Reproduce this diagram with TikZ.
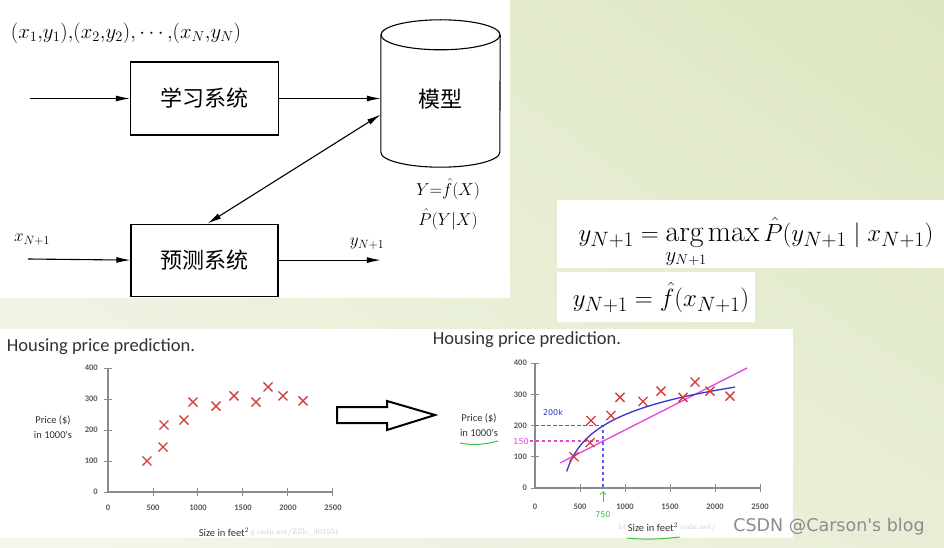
\documentclass[tikz,border=0pt]{standalone}
\usepackage{amsmath,amssymb}
\usepackage{fontspec}
\newfontfamily\cjk{Noto Sans CJK SC}
\newfontfamily\plotfont{Carlito}
\newfontfamily\markfont{DejaVu Sans}
\usepackage{xcolor}
\usetikzlibrary{positioning,arrows.meta,calc,shadings}
\definecolor{bglight}{HTML}{F4F7EC}
\definecolor{bggreen}{HTML}{DCE6BF}
\definecolor{crossred}{HTML}{D63B3B}
\definecolor{fitblue}{HTML}{3535D0}
\definecolor{dashblue}{HTML}{5A5AF5}
\definecolor{fitpink}{HTML}{E445DC}
\definecolor{inkgreen}{HTML}{3CC23C}
\definecolor{axisgray}{HTML}{8A8A8A}

\begin{document}
\begin{tikzpicture}[x=1pt, y=-1pt,
    sysbox/.style={
        draw, line width=1.1pt, minimum width=148pt, minimum height=73pt,
        font=\cjk\fontsize{22}{26}\selectfont
    },
    arrow/.style={-{Latex[length=14pt,width=6pt]}, line width=1.1pt},
    dblarrow/.style={{Latex[length=14pt,width=6pt]}-{Latex[length=14pt,width=6pt]}, line width=1.1pt},
    lbl/.style={font=\fontsize{17}{20}\selectfont, inner sep=0pt},
    formula/.style={font=\fontsize{30}{36}\selectfont, inner sep=0pt, anchor=base},
    plottitle/.style={font=\plotfont\fontsize{18.5}{22}\selectfont, text=black!80, inner sep=0pt},
    ticklbl/.style={font=\plotfont\bfseries\fontsize{8.5}{10}\selectfont, text=black!65, inner sep=0pt},
    axlbl/.style={font=\plotfont\fontsize{10.5}{15.5}\selectfont, text=black!80, inner sep=1pt, align=center},
    plotaxis/.style={axisgray, line width=1.6pt},
    datacross/.style={crossred, line width=1.3pt},
    readline/.style={dash pattern=on 3.5pt off 2.5pt, line width=1.5pt},
    hand/.style={font=\markfont\fontsize{8}{9}\selectfont, inner sep=0pt},
    faint/.style={font=\fontsize{8}{9}\selectfont, text=black!20, inner sep=0pt}
]
\useasboundingbox (0,0) rectangle (944,548);

% 背景与白色面板
\shade[upper left=bglight!60!bggreen, upper right=bggreen, lower left=bglight, lower right=bglight!50!bggreen]
    (0,0) rectangle (944,548);
\fill[white] (0,0) rectangle (510,298);
\fill[white] (557,200) rectangle (944,268);
\fill[white] (557,272) rectangle (755,322);
\fill[white] (0,329) rectangle (793,538);

% 学习系统与预测系统
\node[sysbox] (learn) at (204.5,98.5) {学习系统};
\node[sysbox, below=88pt of learn, minimum width=147pt, minimum height=72pt] (predict) {预测系统};

% 模型（圆柱）
\node[minimum width=119pt, minimum height=147pt, inner sep=0pt] (model) at (440.5,93.5) {};
\node[font=\cjk\fontsize{22}{26}\selectfont, inner sep=0pt] (modelname) at ([yshift=-6pt]model.center) {模型};
\draw[line width=1.1pt] ([yshift=-15pt]model.north west) -- ([yshift=15pt]model.south west)
    arc[start angle=180, end angle=360, x radius=59.5pt, y radius=15pt]
    -- ([yshift=-15pt]model.north east);
\draw[line width=1.1pt] ([yshift=-15pt]model.north) ellipse[x radius=59.5pt, y radius=15pt];

% 文字标注
\node[lbl, font=\fontsize{20.5}{24}\selectfont] (data) at (126,33)
    {$(x_1{,}y_1){,}(x_2{,}y_2){,}\cdots{,}(x_N{,}y_N)$};
\node[lbl, font=\fontsize{18}{21}\selectfont] (fhat) at (448,189) {$Y{=}\hat{f}(X)$};
\node[lbl, font=\fontsize{18}{21}\selectfont] (phat) at (448,219) {$\hat{P}(Y|X)$};
\node[lbl, anchor=west] (xnew) at (14,240) {$x_{N+1}$};
\node[lbl] (ynew) at (367,244) {$y_{N+1}$};

% 连接线
\coordinate (learnin) at (30,98.5);
\coordinate (predin) at (28,259);
\coordinate (yout) at (predict.east -| model.west);
\draw[arrow] (learnin) -- (learn.west);
\draw[arrow] (learn.east) -- (learn.east -| model.west);
\draw[dblarrow] ([yshift=-21pt]model.west) -- ([xshift=3pt]predict.north);
\draw[arrow] (predin) -- (predict.west);
\draw[arrow] (predict.east) -- (yout);

% 公式
\node[formula] (argmax) at (756,241)
    {$y_{N+1} = \makebox[0pt][l]{\raisebox{-20pt}{$\scriptstyle y_{N+1}$}}\mathrm{arg}\max \hat{P}(y_{N+1} \mid x_{N+1})$};
\node[formula, font=\fontsize{28}{34}\selectfont] (fpred) at (661,306) {$y_{N+1} = \hat{f}(x_{N+1})$};

% 左图：数据
\node[plottitle] (titleleft) at (101,347) {Housing price prediction.};
\node[axlbl] (priceleft) at (53,427) {Price (\$)\\in 1000's};
\node[axlbl] (sizeleft) at (224,532) {Size in feet$^2$};
\node[faint, right=0pt of sizeleft] (urlleft) {g.csdn.net/ZZh\_301051};
\begin{scope}[shift={(108,492)}, x=0.09pt, y=0.31pt]
    \draw[plotaxis] (0,0) -- (0,400);
    \draw[plotaxis] (0,0) -- (2500,0);
    \foreach \t in {0,100,200,300,400} {
        \draw[plotaxis, line width=1pt] (0,\t) +(-4pt,0pt) -- +(4pt,0pt);
        \node[ticklbl, anchor=east] at ([xshift=-10pt]0,\t) {\t};
    }
    \foreach \t in {500,1000,1500,2000,2500}
        \draw[plotaxis, line width=1pt] (\t,0) +(0pt,-4pt) -- +(0pt,4pt);
    \foreach \t in {0,500,1000,1500,2000,2500}
        \node[ticklbl] at ([yshift=-16pt]\t,0) {\t};
    \foreach \px/\py in {433/100,611/145,622/216,844/232,944/290,1200/277,1400/310,1644/290,1778/339,1944/310,2167/294}
        \draw[datacross] (\px,\py) +(-4.5pt,-4.5pt) -- +(4.5pt,4.5pt) +(-4.5pt,4.5pt) -- +(4.5pt,-4.5pt);
\end{scope}

% 空心箭头
\draw[line width=2pt, line join=miter] (337,407) -- (387,407) -- (387,401) -- (435,415)
    -- (387,430) -- (387,423) -- (337,423) -- cycle;

% 右图：拟合
\node[plottitle] (titleright) at (527,340) {Housing price prediction.};
\node[axlbl] (priceright) at (479,425) {Price (\$)\\in 1000's};
\node[axlbl] (sizeright) at (653,527) {Size in feet$^2$};
\node[faint, left=0pt of sizeright] (urlhead) {ht};
\node[faint, right=1pt of sizeright] (urltail) {csdn.net/};
\draw[inkgreen, line width=1pt] (460,443) .. controls (475,446) and (486,444) .. (498,441);
\draw[inkgreen, line width=1pt] (627,538) .. controls (645,540) and (662,539) .. (680,537);
\begin{scope}[shift={(535,488)}, x=0.09pt, y=0.3125pt]
    \draw[plotaxis] (0,0) -- (0,400);
    \draw[plotaxis] (0,0) -- (2500,0);
    \foreach \t in {0,100,200,300,400} {
        \draw[plotaxis, line width=1pt] (0,\t) +(-4pt,0pt) -- +(4pt,0pt);
        \node[ticklbl, anchor=east] at ([xshift=-8pt]0,\t) {\t};
    }
    \foreach \t in {500,1000,1500,2000,2500}
        \draw[plotaxis, line width=1pt] (\t,0) +(0pt,-4pt) -- +(0pt,4pt);
    \foreach \t in {0,500,1000,1500,2000,2500}
        \node[ticklbl] at ([yshift=-19pt]\t,0) {\t};
    % 读数辅助线
    \draw[dashblue, readline] (0,200) -- (755,200) -- (755,0);
    \draw[fitpink, readline] (-60,150) -- (755,150);
    % 拟合曲线
    \draw[fitpink, line width=1.3pt] (278,80) -- (2356,384);
    \draw[fitblue, line width=1.3pt] plot[domain=352:2222, samples=60, smooth] (\x,{-369+91.2*ln(\x-250)});
    \foreach \px/\py in {433/100,611/145,622/216,844/232,944/290,1200/277,1400/310,1644/290,1778/339,1944/310,2167/294}
        \draw[datacross] (\px,\py) +(-4.5pt,-4.5pt) -- +(4.5pt,4.5pt) +(-4.5pt,4.5pt) -- +(4.5pt,-4.5pt);
    % 手写标注
    \node[hand, text=fitblue] (note200) at (200,240) {200k};
    \node[hand, text=fitpink] (note150) at (-155,150) {150};
    \node[hand, text=inkgreen] (note750) at (755,-86) {750};
    \draw[inkgreen, line width=0.8pt, -{Straight Barb[length=3pt]}] (755,-45) -- (755,-10);
\end{scope}

% 水印
\node[font=\markfont\fontsize{17.5}{20}\selectfont, text=black!45, inner sep=0pt] (watermark) at (829,527) {CSDN @Carson's blog};

\end{tikzpicture}
\end{document}
